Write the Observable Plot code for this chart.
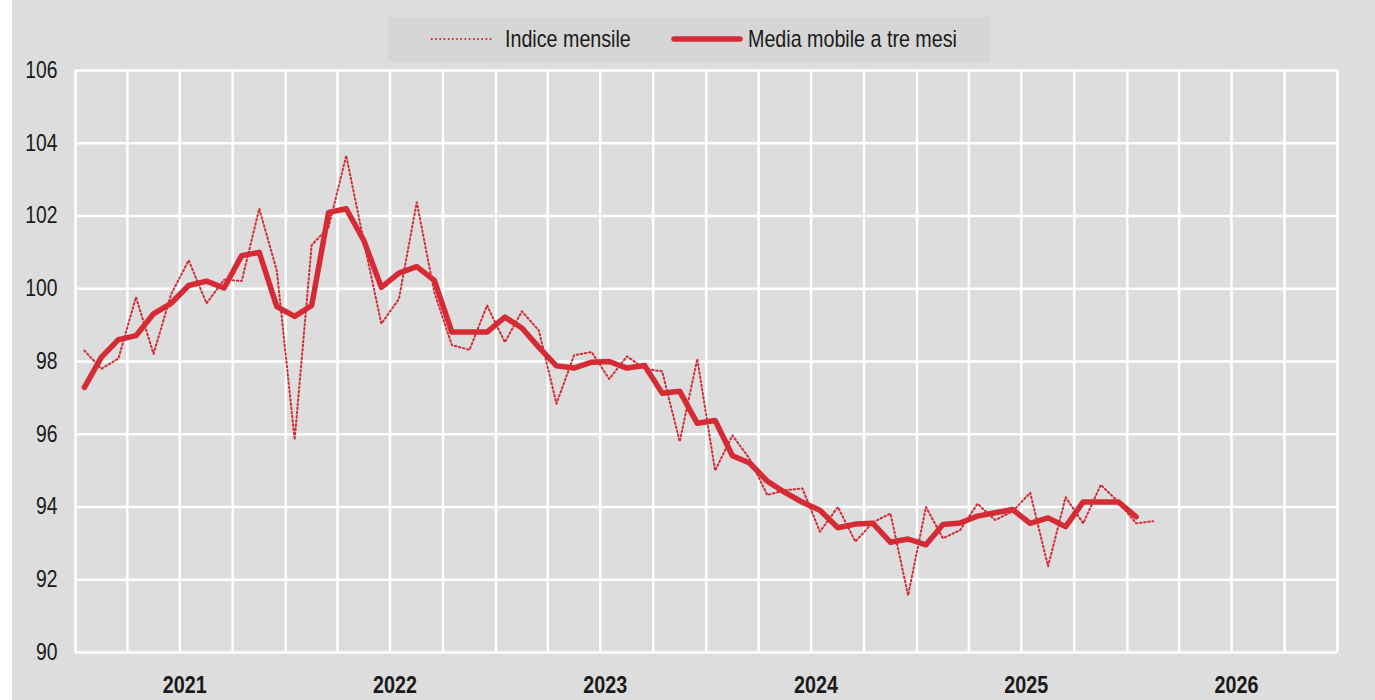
<!DOCTYPE html>
<html>
<head>
<meta charset="utf-8">
<script src="https://cdn.jsdelivr.net/npm/d3@7"></script>
<script src="https://cdn.jsdelivr.net/npm/@observablehq/plot@0.6"></script>
<style>
  body { margin: 0; background: #ffffff; }
  #wrap { position: relative; width: 1363px; height: 700px; margin-left: 12px; background: #dddddd; overflow: hidden;
          font-family: "Liberation Sans", Arial, sans-serif; }
  #legend { position: absolute; left: 376px; top: 17px; width: 602px; height: 45px; background: #d6d6d6;
            font-size: 24px; color: #1a1a1a; }
  #legend > * { position: absolute; }
  #legend span { display: inline-block; transform: scaleX(0.82); transform-origin: 0 50%; white-space: nowrap; }
  #legend svg { display: block; }
  #chart { position: absolute; left: -12px; top: 50px; }
</style>
</head>
<body>
<div id="wrap">
  <div id="legend">
    <svg style="left:42px;top:17px" width="64" height="10"><line x1="1" y1="5" x2="63" y2="5" stroke="#d52b35" stroke-width="2" stroke-dasharray="1.6 2.6"/></svg>
    <span style="left:117px;top:8px">Indice mensile</span>
    <svg style="left:282px;top:16px" width="74" height="12"><line x1="4" y1="6" x2="70" y2="6" stroke="#d52b35" stroke-width="5.5" stroke-linecap="round"/></svg>
    <span style="left:360px;top:8px">Media mobile a tre mesi</span>
  </div>
  <div id="chart"></div>
</div>
<script>
// Month categories: first month of the series and the series values
const startMonth = "2021-01";
const indiceMensile = [
  98.30, 97.80, 98.08, 99.77, 98.21, 99.85, 100.78, 99.60, 100.25, 100.21, 102.20, 100.50,
  95.85, 101.20, 101.70, 103.66, 101.30, 99.04, 99.72, 102.38, 99.90, 98.45, 98.32, 99.54,
  98.53, 99.38, 98.85, 96.84, 98.17, 98.26, 97.52, 98.14, 97.80, 97.73, 95.80, 98.07,
  95.00, 95.97, 95.32, 94.33, 94.46, 94.51, 93.32, 94.00, 93.05, 93.58, 93.82, 91.57,
  94.00, 93.14, 93.36, 94.09, 93.64, 93.88, 94.39, 92.37, 94.27, 93.55, 94.61, 94.14,
  93.55, 93.61
];
const mediaMobile = [
  97.29, 98.12, 98.60, 98.71, 99.31, 99.60, 100.09, 100.21, 100.02, 100.91, 101.00, 99.51,
  99.24, 99.54, 102.10, 102.20, 101.33, 100.04, 100.43, 100.61, 100.23, 98.81, 98.81, 98.81,
  99.22, 98.92, 98.39, 97.88, 97.82, 97.98, 98.00, 97.82, 97.89, 97.13, 97.18, 96.30,
  96.38, 95.41, 95.21, 94.71, 94.40, 94.13, 93.91, 93.43, 93.53, 93.55, 93.03, 93.12,
  92.96, 93.52, 93.56, 93.75, 93.84, 93.93, 93.55, 93.70, 93.46, 94.14, 94.14, 94.14,
  93.73
];
const yearLabels = ["2021", "2022", "2023", "2024", "2025", "2026"];
const yTicks = [90, 92, 94, 96, 98, 100, 102, 104, 106];

const red = "#d52b35";
const start = d3.utcParse("%Y-%m")(startMonth);
// place each monthly value in the middle of its month
const midMonth = (i) => {
  const a = d3.utcMonth.offset(start, i), b = d3.utcMonth.offset(start, i + 1);
  return new Date((+a + +b) / 2);
};
const dataMensile = indiceMensile.map((v, i) => ({date: midMonth(i), value: v}));
const dataMedia = mediaMobile.map((v, i) => ({date: midMonth(i), value: v}));

const x0 = d3.utcParse("%Y")(yearLabels[0]);
const x1 = d3.utcYear.offset(d3.utcParse("%Y")(yearLabels[yearLabels.length - 1]), 1);
const quarterTicks = d3.utcMonth.every(3).range(x0, d3.utcDay.offset(x1, 1));
const yearMid = yearLabels.map(y => d3.utcMonth.offset(d3.utcParse("%Y")(y), 6));

const chart = Plot.plot({
  width: 1375,
  height: 650,
  marginTop: 20,
  marginLeft: 75,
  marginRight: 38,
  marginBottom: 48,
  style: {background: "transparent", fontFamily: '"Liberation Sans", Arial, sans-serif', fontSize: "23px", color: "#1a1a1a"},
  x: {type: "utc", domain: [x0, x1]},
  y: {domain: [90, 106]},
  marks: [
    Plot.gridY(yTicks, {stroke: "#ffffff", strokeOpacity: 1, strokeWidth: 2.5}),
    Plot.gridX(quarterTicks, {stroke: "#ffffff", strokeOpacity: 1, strokeWidth: 2.5}),
    Plot.axisY(yTicks, {tickSize: 0, tickPadding: 18, fontSize: 23, label: null}),
    Plot.axisX(yearMid, {tickSize: 0, tickPadding: 24, fontSize: 23.5, fontWeight: "bold",
      tickFormat: d => d3.utcFormat("%Y")(d), label: null, dx: 5}),
    Plot.line(dataMensile, {x: "date", y: "value", stroke: red, strokeWidth: 2, strokeDasharray: "1.6 2.6"}),
    Plot.line(dataMedia, {x: "date", y: "value", stroke: red, strokeWidth: 5.5, strokeLinejoin: "round", strokeLinecap: "round"})
  ]
});
document.getElementById("chart").appendChild(chart);
// condense the tick labels horizontally (narrow typeface look)
chart.querySelectorAll('g[aria-label$="tick label"] text').forEach(t => {
  const w = t.getComputedTextLength();
  if (w > 0) {
    t.setAttribute("textLength", (w * 0.84).toFixed(1));
    t.setAttribute("lengthAdjust", "spacingAndGlyphs");
  }
});
</script>
</body>
</html>
